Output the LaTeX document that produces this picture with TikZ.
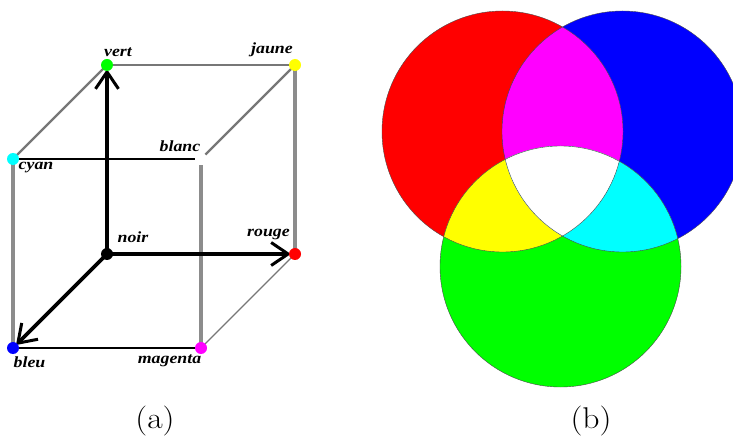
\documentclass[tikz,border=0pt]{standalone}
\usepackage{fontspec}
\setmainfont{Liberation Serif}
\newfontfamily\captionfont{Latin Modern Roman}
\usetikzlibrary{arrows.meta}
\definecolor{rgbRed}{HTML}{FF0000}
\definecolor{rgbGreen}{HTML}{00FF00}
\definecolor{rgbBlue}{HTML}{0000FF}
\definecolor{rgbCyan}{HTML}{00FFFF}
\definecolor{rgbMagenta}{HTML}{FF00FF}
\definecolor{rgbYellow}{HTML}{FFFF00}
\definecolor{rgbGray}{HTML}{8C8C8C}
\tikzset{
  rgb corner/.style={circle, inner sep=0pt, minimum size=8pt},
  rgb hidden/.style={circle, inner sep=0pt, minimum size=12pt},
  rgb edge/.style={draw=rgbGray, line width=3.2pt},
  rgb thin edge/.style={draw=rgbGray!85!black, line width=2.4pt},
  rgb dark edge/.style={draw=black, line width=1.5pt},
  rgb axis/.style={draw=black, line width=3.6pt, -{Straight Barb[length=17pt,width=23pt,line width=3pt]}},
  rgb label/.style={font=\fontsize{15.5}{15.5}\selectfont\itshape\bfseries, text=black, inner sep=0pt, xscale=1.15},
  rgb caption/.style={font=\captionfont\fontsize{30}{30}\selectfont, text=black, inner sep=0pt, xscale=1.12},
  rgb outline/.style={draw=black!70, line width=.4pt},
}
\begin{document}
\begin{tikzpicture}[x=1pt,y=-1pt]
  \useasboundingbox (0,0) rectangle (733,438);
  \fill[white] (0,0) rectangle (733,438);
  % cube corners
  \node[rgb corner] (noir) at (107,254) {};
  \node[rgb corner] (rouge) at (295,254) {};
  \node[rgb corner] (vert) at (107,65) {};
  \node[rgb corner] (jaune) at (295,65) {};
  \node[rgb corner] (cyan) at (13,159) {};
  \node[rgb hidden] (blanc) at (201,159) {};
  \node[rgb corner] (bleu) at (13,348) {};
  \node[rgb corner] (magenta) at (201,348) {};
  % cube edges
  \draw[rgb thin edge] (cyan) -- (vert);
  \draw[rgb thin edge] (vert) -- (jaune);
  \draw[rgb thin edge] (jaune) -- (blanc);
  \draw[rgb edge] (jaune) -- (rouge);
  \draw[rgb edge] (cyan) -- (bleu);
  \draw[rgb edge] (blanc) -- (magenta);
  \draw[rgb dark edge] (cyan) -- (blanc);
  \draw[rgb dark edge] (bleu) -- (magenta);
  \draw[rgb thin edge,line width=1.4pt] (magenta) -- (rouge);
  \draw[rgb axis] (noir) -- (vert);
  \draw[rgb axis] (noir) -- (rouge);
  \draw[rgb axis] (noir) -- (bleu);
  % corner dots
  \foreach \corner/\col in {noir/black,rouge/rgbRed,vert/rgbGreen,jaune/rgbYellow,cyan/rgbCyan,bleu/rgbBlue,magenta/rgbMagenta}{
    \fill[\col] (\corner) circle (6pt);
  }
  % corner names
  \node[rgb label] (lvert) at (118,52) {vert};
  \node[rgb label] (ljaune) at (272,50) {jaune};
  \node[rgb label] (lblanc) at (180,146) {blanc};
  \node[rgb label] (lcyan) at (36,168) {cyan};
  \node[rgb label] (lnoir) at (133,237) {noir};
  \node[rgb label] (lrouge) at (268.5,234) {rouge};
  \node[rgb label] (lbleu) at (29.5,362) {bleu};
  \node[rgb label] (lmagenta) at (169.5,361) {magenta};
  % colour circles
  \begin{scope}
    \clip (0,0) rectangle (733,438);
    \def\rr{120.5}
    \fill[rgbRed] (502.5,131.5) circle (\rr);
    \fill[rgbBlue] (622.5,131.5) circle (\rr);
    \fill[rgbGreen] (560.5,266.5) circle (\rr);
    \begin{scope}
      \clip (502.5,131.5) circle (\rr);
      \fill[rgbMagenta] (622.5,131.5) circle (\rr);
      \fill[rgbYellow] (560.5,266.5) circle (\rr);
      \clip (622.5,131.5) circle (\rr);
      \fill[white] (560.5,266.5) circle (\rr);
    \end{scope}
    \begin{scope}
      \clip (622.5,131.5) circle (\rr);
      \clip (560.5,266.5) circle (\rr);
      \fill[rgbCyan] (372,0) rectangle (733,438);
      \clip (502.5,131.5) circle (\rr);
      \fill[white] (502.5,131.5) circle (\rr);
    \end{scope}
    \draw[rgb outline] (502.5,131.5) circle (\rr);
    \draw[rgb outline] (622.5,131.5) circle (\rr);
    \draw[rgb outline] (560.5,266.5) circle (\rr);
  \end{scope}
  % captions
  \node[rgb caption] (capa) at (155,421) {(a)};
  \node[rgb caption] (capb) at (591,421) {(b)};
\end{tikzpicture}
\end{document}
